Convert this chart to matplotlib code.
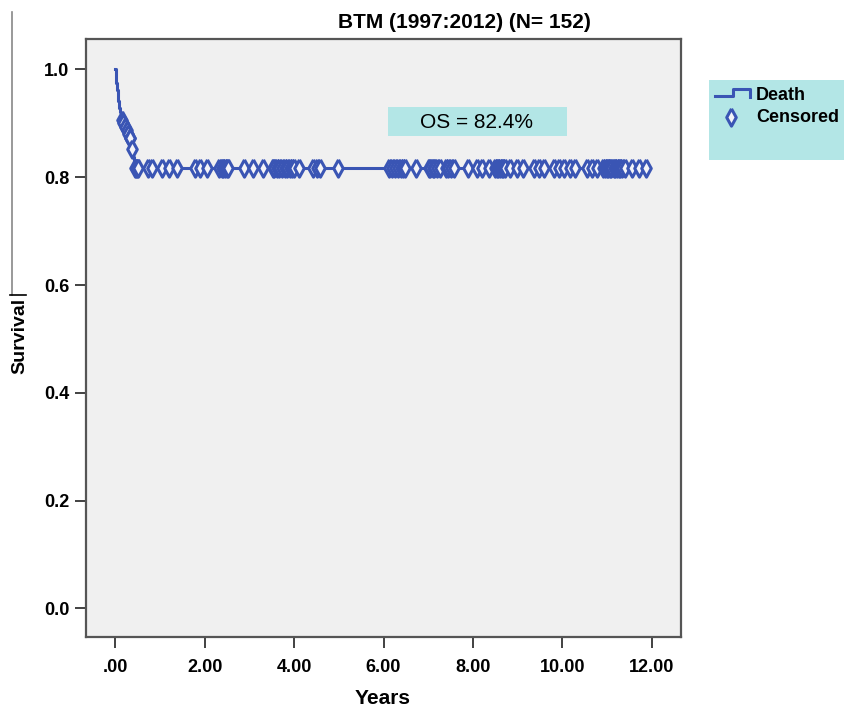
import matplotlib
matplotlib.use("Agg")
import matplotlib.pyplot as plt
from matplotlib.lines import Line2D
from matplotlib.patches import Rectangle

plt.rcParams['font.family'] = ['Liberation Sans', 'DejaVu Sans']

# Kaplan-Meier steps (years, survival)
death_t = [0.005, 0.01, 0.02, 0.025, 0.03, 0.04, 0.05, 0.06, 0.07, 0.08, 0.09, 0.10,
           0.12, 0.13, 0.16, 0.20, 0.24, 0.28, 0.31, 0.34, 0.36, 0.38, 0.39, 0.40,
           0.41, 0.42, 0.43]
surv = [0.993, 0.987, 0.980, 0.974, 0.967, 0.961, 0.954, 0.948, 0.941, 0.935, 0.928, 0.921,
        0.914, 0.907, 0.900, 0.894, 0.887, 0.880, 0.873, 0.866, 0.859, 0.852, 0.845, 0.838,
        0.831, 0.824, 0.817]
end_t = 11.87

# censored cases on the drop
early_cens_t = [0.14, 0.18, 0.22, 0.26, 0.29, 0.32, 0.33, 0.37]
early_cens_s = [0.907, 0.900, 0.894, 0.887, 0.880, 0.873, 0.873, 0.852]

# censored cases on the plateau
plateau_cens_t = [0.44, 0.46, 0.48, 0.51, 0.74, 0.81, 1.04, 1.19, 1.37, 1.78, 1.90, 2.05,
                  2.31, 2.38, 2.42, 2.46, 2.50, 2.53, 2.87, 3.09, 3.30, 3.52, 3.56, 3.62,
                  3.67, 3.72, 3.80, 3.85, 3.91, 3.95, 4.00, 4.12, 4.43, 4.51, 4.58, 4.99,
                  6.13, 6.20, 6.26, 6.32, 6.39, 6.44, 6.48, 6.72, 7.01, 7.05, 7.10, 7.14,
                  7.20, 7.27, 7.40, 7.45, 7.51, 7.57, 7.90, 8.09, 8.20, 8.35, 8.50, 8.53,
                  8.57, 8.61, 8.65, 8.68, 8.72, 8.83, 8.99, 9.13, 9.36, 9.47, 9.58, 9.81,
                  9.92, 10.03, 10.18, 10.29, 10.55, 10.66, 10.78, 10.92, 10.95, 11.00,
                  11.03, 11.07, 11.10, 11.15, 11.18, 11.22, 11.26, 11.30, 11.34, 11.41,
                  11.56, 11.71, 11.87]

x_ticks = [0, 2, 4, 6, 8, 10, 12]
x_labels = ['.00', '2.00', '4.00', '6.00', '8.00', '10.00', '12.00']
y_ticks = [0.0, 0.2, 0.4, 0.6, 0.8, 1.0]

blue = '#3a55b4'
W, H = 844, 709
diamond = [(0, 1), (0.55, 0), (0, -1), (-0.55, 0), (0, 1)]

fig = plt.figure(figsize=(W / 100, H / 100), dpi=100)
ax = fig.add_axes([86 / W, 1 - 637 / H, (681 - 86) / W, (637 - 38.7) / H])
ax.set_facecolor('#f0f0f0')

xs = [0] + death_t + [end_t]
ys = [1.0] + surv + [surv[-1]]
ax.step(xs, ys, where='post', color=blue, lw=2.2, zorder=2)

cens_t = early_cens_t + plateau_cens_t
cens_s = early_cens_s + [surv[-1]] * len(plateau_cens_t)
ax.plot(cens_t, cens_s, ls='none', marker=diamond, ms=12.5, mfc='#f4f4f8', mec=blue,
        mew=2.2, zorder=3)

ax.set_xlim(-0.656, 12.656)
ax.set_ylim(-0.053, 1.057)
ax.set_xticks(x_ticks)
ax.set_xticklabels(x_labels)
ax.set_yticks(y_ticks)
ax.set_yticklabels(['%.1f' % v for v in y_ticks])
for lab in ax.get_xticklabels() + ax.get_yticklabels():
    lab.set_fontweight('bold')
    lab.set_fontsize(13)
ax.tick_params(axis='x', length=8, width=1.3, color='#333333', pad=8)
ax.tick_params(axis='y', length=8, width=1.3, color='#333333', pad=4)
for sp in ax.spines.values():
    sp.set_color('#555555')
    sp.set_linewidth(1.6)

fig.text(464 / W, 1 - 22 / H, 'BTM (1997:2012) (N= 152)', ha='center', va='center',
         fontsize=15, fontweight='bold')
fig.text(383 / W, 1 - 699 / H, 'Years', ha='center', va='center',
         fontsize=15, fontweight='bold')
fig.text(20 / W, 1 - 336 / H, 'Survival', ha='center', va='center', rotation=90,
         fontsize=14, fontweight='bold')

# stray rule next to the y label
fig.add_artist(Line2D([12 / W, 12 / W], [1 - 12 / H, 1 - 295 / H], color='#888888', lw=1.2))
fig.add_artist(Line2D([10 / W, 26 / W], [1 - 295 / H, 1 - 295 / H], color='black', lw=1.2))

# OS box
fig.add_artist(Rectangle((388 / W, 1 - 136 / H), (567 - 388) / W, (136 - 107) / H,
                         transform=fig.transFigure, facecolor='#b3e6e6', edgecolor='none'))
fig.text(477 / W, 1 - 122 / H, 'OS = 82.4%', ha='center', va='center', fontsize=15)

# legend
fig.add_artist(Rectangle((709 / W, 1 - 160 / H), (W - 709) / W, (160 - 80) / H,
                         transform=fig.transFigure, facecolor='#b3e6e6', edgecolor='none'))
fig.add_artist(Line2D([715 / W, 733 / W, 733 / W, 750 / W, 750 / W],
                      [1 - 96 / H, 1 - 96 / H, 1 - 89 / H, 1 - 89 / H, 1 - 97 / H],
                      color=blue, lw=2.2))
fig.add_artist(Line2D([731 / W], [1 - 117 / H], ls='none', marker=diamond, ms=12.5,
                      mfc='#f4f4f8', mec=blue, mew=2.2))
fig.text(756 / W, 1 - 96 / H, 'Death', ha='left', va='center', fontsize=13, fontweight='bold')
fig.text(756 / W, 1 - 118 / H, 'Censored', ha='left', va='center', fontsize=13,
         fontweight='bold')

fig.savefig('out.png', dpi=100)
